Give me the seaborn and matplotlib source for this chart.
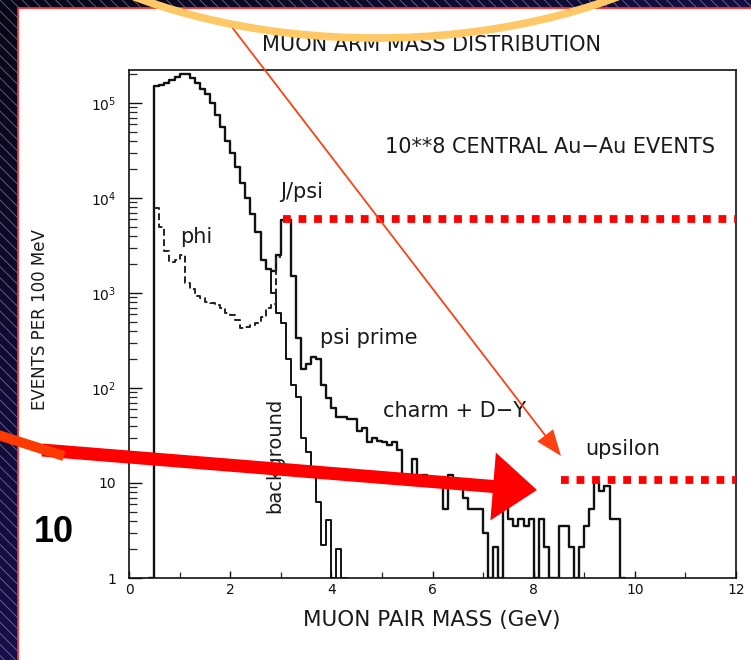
import numpy as np
import pandas as pd
import matplotlib
matplotlib.use("Agg")
import matplotlib.pyplot as plt
import seaborn as sns
from matplotlib.patches import Rectangle, Polygon, Ellipse
from matplotlib.ticker import LogLocator, FuncFormatter, MultipleLocator, NullFormatter

# ---------------- data (events per 100 MeV bin) ----------------
BIN_WIDTH = 0.1
total_start = 0.4
total_counts = [1,
    1.5e5, 1.55e5, 1.62e5, 1.75e5, 1.88e5, 2.0e5, 2.0e5, 1.85e5, 1.62e5, 1.42e5,
    1.25e5, 1.0e5, 7.5e4, 5.6e4, 4.0e4, 3.0e4, 2.1e4, 1.45e4, 1.0e4, 6.8e3,
    4.4e3, 2.2e3, 1.8e3, 1.7e3, 2.5e3, 5.9e3, 5.9e3, 1.5e3, 340, 160,
    180, 213, 200, 107, 78, 62, 50, 50, 47, 47,
    35, 38, 27, 30, 28, 27, 25, 27, 22, 12,
    12, 18, 10, 12, 10, 10, 10, 5.3, 12, 9,
    9, 7, 5.3, 5.3, 5.3, 3.0, 1, 2.1, 1, 6,
    4.2, 3.5, 4.2, 3.5, 4.2, 1, 4.2, 2.1, 1, 1,
    3.5, 3.5, 2.1, 1, 2.1, 3.5, 5.3, 10.3, 8.2, 9.2,
    4.2, 4.2, 1]

background_start = 2.7
background_counts = [1.8e3, 1.0e3, 620, 480, 200, 107, 81, 30, 21, 11.5,
                     6.3, 2.2, 4.1, 1, 2.0, 1]

phi_start = 0.5
phi_counts = [7.8e3, 5.0e3, 2.8e3, 2.1e3, 2.2e3, 2.5e3, 1.26e3, 1.1e3, 930, 890,
              800, 780, 740, 700, 620, 590, 520, 430, 440, 460,
              480, 560, 700, 760, 2.4e3]

x_ticks = [0, 2, 4, 6, 8, 10, 12]
jpsi_level = 6.0e3
upsilon_level = 10.8

title = "MUON ARM MASS DISTRIBUTION"
x_label = "MUON PAIR MASS (GeV)"
y_label = "EVENTS PER 100 MeV"


def hist_frame(start, counts):
    n = len(counts)
    edges = [round(start + BIN_WIDTH * i, 3) for i in range(n + 1)]
    centers = [round(a + BIN_WIDTH / 2, 3) for a in edges[:-1]]
    return edges, pd.DataFrame({"mass": centers, "events": [float(x) for x in counts]})


# ---------------- figure ----------------
sns.set_style("white")
plt.rcParams["font.family"] = ["DejaVu Sans"]
plt.rcParams["mathtext.default"] = "regular"
plt.rcParams["hatch.linewidth"] = 0.6

W, H = 751, 660
fig = plt.figure(figsize=(W / 100, H / 100), dpi=100)

# slide background (pixel coordinates, y downward)
bg = fig.add_axes([0, 0, 1, 1], zorder=-20)
bg.set_axis_off()
bg.set_xlim(0, W)
bg.set_ylim(H, 0)
gy, gx = np.mgrid[0:1:120j, 0:1:120j]
t = np.clip(0.6 * gy + 0.5 * gx, 0, 1)[..., None]
c0 = np.array([0.03, 0.03, 0.09])
c1 = np.array([0.13, 0.08, 0.42])
bg.imshow(c0 + (c1 - c0) * t, extent=[0, W, H, 0], aspect="auto", zorder=0)
bg.add_patch(Rectangle((0, 0), W, H, facecolor="none",
                       edgecolor=(0.78, 0.78, 0.92, 0.5), hatch="\\\\\\", lw=0, zorder=1))
bg.add_patch(Rectangle((18, 8), W, H, facecolor="white",
                       edgecolor="#ff2a2a", lw=1.3, zorder=2))

# main histogram axes
ax = fig.add_axes([129 / W, 1 - 578 / H, 607 / W, 508 / H])
ax.set_facecolor("none")

e, df = hist_frame(total_start, total_counts)
sns.histplot(data=df, x="mass", weights="events", bins=e, element="step", fill=False,
             color="#111111", linewidth=1.7, ax=ax)
e, df = hist_frame(background_start, background_counts)
sns.histplot(data=df, x="mass", weights="events", bins=e, element="step", fill=False,
             color="#111111", linewidth=1.4, ax=ax)
e, df = hist_frame(phi_start, phi_counts)
sns.histplot(data=df, x="mass", weights="events", bins=e, element="step", fill=False,
             color="#222222", linewidth=1.4, linestyle=(0, (3.5, 1.8)), ax=ax)

ax.set_yscale("log")
ax.set_xlim(0, 12)
ax.set_ylim(1, 10 ** ((578 - 70) / 95))

for s in ax.spines.values():
    s.set_color("#111111")
    s.set_linewidth(1.2)

ax.set_xticks(x_ticks)
ax.xaxis.set_minor_locator(MultipleLocator(1))
ax.yaxis.set_major_locator(LogLocator(base=10, numticks=10))
ax.yaxis.set_minor_locator(LogLocator(base=10, subs=np.arange(2, 10), numticks=20))
ax.yaxis.set_minor_formatter(NullFormatter())


def yfmt(val, pos):
    n = int(round(np.log10(val)))
    if n == 0:
        return "1"
    if n == 1:
        return "10"
    return "$10^{%d}$" % n


ax.yaxis.set_major_formatter(FuncFormatter(yfmt))
ax.tick_params(axis="y", which="major", direction="in", length=9, width=1.0,
               pad=9, labelsize=10, colors="#111111", left=True, right=False)
ax.tick_params(axis="y", which="minor", direction="in", length=5.5, width=0.9,
               left=True, right=False)
ax.tick_params(axis="x", which="major", direction="in", length=5, width=1.0,
               pad=3.5, labelsize=10, colors="#111111", bottom=True, top=False)
ax.tick_params(axis="x", which="minor", direction="in", length=4, width=0.9,
               bottom=True, top=False)

ax.set_xlabel(x_label, fontsize=15.5, color="#1a1a1a")
ax.xaxis.set_label_coords((432 - 129) / 607, (578 - 620) / 508)
ax.xaxis.label.set_va("center")
ax.set_ylabel(y_label, fontsize=12, color="#1a1a1a")
ax.yaxis.set_label_coords((40 - 129) / 607, (578 - 320) / 508)
ax.yaxis.label.set_va("center")
ax.text((432 - 129) / 607, (578 - 45) / 508, title, transform=ax.transAxes,
        fontsize=15, color="#1a1a1a", ha="center", va="center")

txt = dict(fontsize=15, color="#1a1a1a", va="center", ha="left")
ax.text(2.985, 1.15e4, "J/psi", **txt)
ax.text(1.01, 3.9e3, "phi", **txt)
ax.text(3.78, 336, "psi prime", **txt)
ax.text(5.02, 57, "charm + D\u2212Y", **txt)
ax.text(9.02, 22.8, "upsilon", **txt)
ax.text(5.06, 3.44e4, "10**8 CENTRAL Au\u2212Au EVENTS", **txt)
ax.text(2.89, 19.7, "background", rotation=90, fontsize=14, color="#1a1a1a",
        ha="center", va="center")

# red dotted level markers
ax.plot([3.04, 12], [jpsi_level, jpsi_level], color="#ff0000", lw=5.6,
        linestyle=(0, (1, 1)), solid_capstyle="butt", dash_capstyle="butt",
        clip_on=False, zorder=5)
ax.plot([8.55, 12], [upsilon_level, upsilon_level], color="#ff0000", lw=5.6,
        linestyle=(0, (1, 1)), solid_capstyle="butt", dash_capstyle="butt",
        clip_on=False, zorder=5)

# overlay annotations (pixel coordinates, y downward)
ov = fig.add_axes([0, 0, 1, 1], zorder=10)
ov.set_axis_off()
ov.set_xlim(0, W)
ov.set_ylim(H, 0)
ov.patch.set_alpha(0)


def arrow_poly(x0, y0, x1, y1, shaft_hw, head_len, head_hw):
    p0 = np.array([x0, y0], float)
    p1 = np.array([x1, y1], float)
    d = p1 - p0
    u = d / np.hypot(*d)
    n = np.array([-u[1], u[0]])
    b = p1 - head_len * u
    pts = [p0 + shaft_hw * n, b + shaft_hw * n, b + head_hw * n, p1,
           b - head_hw * n, b - shaft_hw * n, p0 - shaft_hw * n]
    return np.array(pts)


# thick red arrow
ov.add_patch(Polygon(arrow_poly(42, 450, 537, 490, 6.5, 44, 34),
                     closed=True, facecolor="#ff0000", edgecolor="none"))
# orange tail segment at left
ov.add_patch(Polygon(arrow_poly(-5, 434, 64, 456, 5, 0.01, 5),
                     closed=True, facecolor="#ff3a00", edgecolor="none"))
# thin orange arrow
ov.add_patch(Polygon(arrow_poly(228, 22, 561, 456, 0.9, 26, 10),
                     closed=True, facecolor="#ff4010", edgecolor="none"))
# orange ellipse at top
ov.add_patch(Ellipse((376, -194), 850, 464, fill=False, edgecolor="#ffc866", lw=5.5))

# slide number
ov.text(54, 533, "10", fontsize=26, fontweight="bold",
        family=["Liberation Sans Narrow", "Liberation Sans"],
        color="black", ha="center", va="center")

fig.savefig("out.png", dpi=100)
